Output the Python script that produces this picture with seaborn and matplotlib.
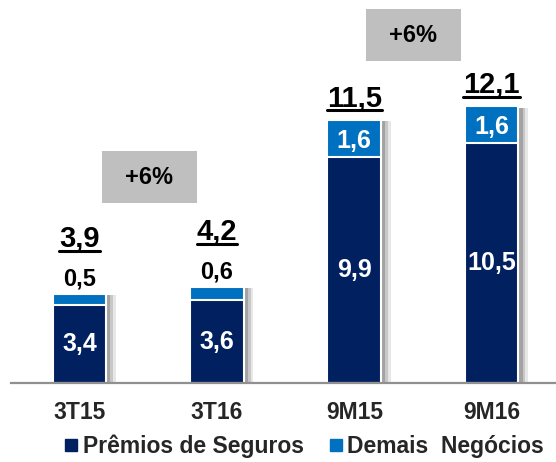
import matplotlib
matplotlib.use("Agg")
import matplotlib.pyplot as plt
import matplotlib.patheffects as pe
from matplotlib.lines import Line2D
from matplotlib.patches import Rectangle
import seaborn as sns
import pandas as pd

categories = ["3T15", "3T16", "9M15", "9M16"]
premios = [3.4, 3.6, 9.9, 10.5]
demais = [0.5, 0.6, 1.6, 1.6]
totais = [3.9, 4.2, 11.5, 12.1]
premios_lbl = ["3,4", "3,6", "9,9", "10,5"]
demais_lbl = ["0,5", "0,6", "1,6", "1,6"]
totais_lbl = ["3,9", "4,2", "11,5", "12,1"]
growth_lbl = ["+6%", "+6%"]
series_names = ["Prêmios de Seguros", "Demais  Negócios"]

DARK = "#002060"
LIGHT = "#0070C0"
FONT = ["Liberation Sans", "DejaVu Sans"]

sns.set_style("white")
plt.rcParams["font.family"] = FONT
plt.rcParams["font.weight"] = "bold"

df = pd.DataFrame({"cat": categories, "premios": premios, "demais": demais, "total": totais})

fig = plt.figure(figsize=(5.56, 4.62), dpi=100)
ax = fig.add_axes([10.7 / 556, 1 - 382.7 / 462, 549.7 / 556, 382.7 / 462])

shadow = [pe.SimplePatchShadow(offset=(7, -1), shadow_rgbFace="#d0d0d0", alpha=0.5),
          pe.SimplePatchShadow(offset=(5, -1), shadow_rgbFace="#a8a8a8", alpha=0.5),
          pe.SimplePatchShadow(offset=(3, -1), shadow_rgbFace="#808080", alpha=0.5),
          pe.Normal()]

sns.barplot(data=df, x="cat", y="total", color=LIGHT, saturation=1, width=0.39,
            edgecolor="white", linewidth=1.5, ax=ax, order=categories)
for p in ax.patches:
    p.set_path_effects(shadow)
sns.barplot(data=df, x="cat", y="premios", color=DARK, saturation=1, width=0.39,
            edgecolor="white", linewidth=1.5, ax=ax, order=categories)

ax.set_xlim(-0.5, 3.5)
ax.set_ylim(0, 16.75)
ax.set_xlabel("")
ax.set_ylabel("")
ax.set_yticks([])
for s in ["left", "right", "top"]:
    ax.spines[s].set_visible(False)
ax.spines["bottom"].set_color("#909090")
ax.spines["bottom"].set_linewidth(1.6)
ax.set_xticks(range(len(categories)))
ax.set_xticklabels(categories, fontsize=16.5, fontweight="bold")
ax.tick_params(axis="x", which="major", length=0, pad=13)
ax.set_xticks([i - 0.5 for i in range(len(categories))], minor=True)
ax.tick_params(axis="x", which="minor", length=5.5, width=1.3, color="#909090", direction="out")

total_texts = []
for i in range(len(categories)):
    small = totais[i] < 6
    ax.text(i, premios[i] / 2, premios_lbl[i], ha="center", va="center",
            color="white", fontsize=18, fontweight="bold")
    if small:
        ax.text(i, totais[i] + 0.65, demais_lbl[i], ha="center", va="center",
                color="black", fontsize=17, fontweight="bold")
        t = ax.text(i, totais[i] + 2.4, totais_lbl[i], ha="center", va="center",
                    color="black", fontsize=21, fontweight="bold")
    else:
        ax.text(i, premios[i] + demais[i] / 2 - 0.1, demais_lbl[i], ha="center", va="center",
                color="white", fontsize=18, fontweight="bold")
        t = ax.text(i, totais[i] + 0.95, totais_lbl[i], ha="center", va="center",
                    color="black", fontsize=21, fontweight="bold")
    total_texts.append(t)

box_pos = [(0.51, 9.0), (2.43, 15.2)]
for (bx, by), lbl in zip(box_pos, growth_lbl):
    ax.add_patch(Rectangle((bx - 0.345, by - 1.14), 0.69, 2.28, facecolor="#BFBFBF",
                           edgecolor="none", zorder=3))
    ax.text(bx, by, lbl, ha="center", va="center", fontsize=17, fontweight="bold",
            color="black", zorder=4)

handles = [Line2D([], [], marker="s", linestyle="none", markersize=8, color=DARK),
           Line2D([], [], marker="s", linestyle="none", markersize=8, color=LIGHT)]
fig.legend(handles, series_names, loc="center", bbox_to_anchor=(0.545, 1 - 446 / 462),
           ncol=2, frameon=False, prop={"family": FONT, "weight": "bold", "size": 16.5},
           handletextpad=0.1, columnspacing=1.0, handlelength=0.8, borderaxespad=0)

fig.canvas.draw()
r = fig.canvas.get_renderer()
for t in total_texts:
    bb = t.get_window_extent(r)
    y = bb.y0 + 2
    fig.add_artist(Line2D([bb.x0 / 556, bb.x1 / 556], [y / 462, y / 462],
                          color="black", linewidth=2.2, transform=fig.transFigure))

fig.savefig("out.png", dpi=100)
